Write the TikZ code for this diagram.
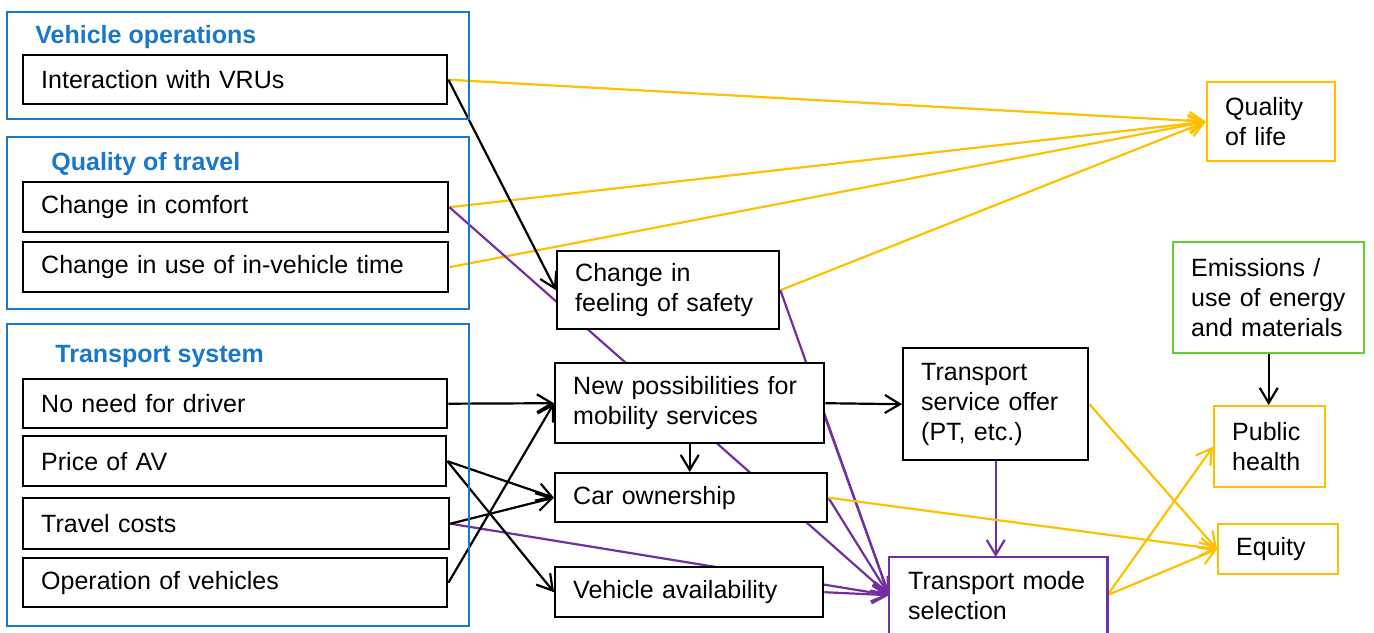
\documentclass[tikz,border=0pt]{standalone}
\usepackage{fontspec}
\setmainfont{Liberation Sans}
\usetikzlibrary{arrows.meta}
\definecolor{cblue}{HTML}{1A78C8}
\definecolor{cyel}{HTML}{FFC000}
\definecolor{cpur}{HTML}{7030A0}
\definecolor{cgrn}{HTML}{66CC33}
\pgfdeclarelayer{bg}
\pgfsetlayers{bg,main}
\begin{document}
\begin{tikzpicture}[x=0.5pt,y=-0.5pt,
  font=\fontsize{12.5}{15}\selectfont,
  box/.style={draw=black, fill=white, line width=1.2pt, anchor=north west, align=left, inner xsep=9pt, inner ysep=0pt},
  grp/.style={draw=cblue, line width=1pt},
  gtitle/.style={anchor=base west, inner sep=0pt, text=cblue, font=\fontsize{12.5}{15}\selectfont\bfseries},
  conn/.style={line width=1.1pt, -{Straight Barb[length=7.5pt,width=9pt]}},
  blk/.style={conn, draw=black},
  yel/.style={conn, draw=cyel},
  pur/.style={conn, draw=cpur}]
\useasboundingbox (0,0) rectangle (1374,632);

% groups
\draw[grp] (7,12) rectangle (469,119);
\draw[grp] (7,137) rectangle (469,309);
\draw[grp] (7,324) rectangle (469,626);
\node[gtitle] (t1) at (35,43) {Vehicle operations};
\node[gtitle] (t2) at (51,170) {Quality of travel};
\node[gtitle] (t3) at (55,362) {Transport system};

% left boxes
\node[box, text width=194pt, minimum height=24.5pt] (vru) at (22,54) {Interaction with VRUs};
\node[box, text width=194.5pt, minimum height=25pt] (comfort) at (22,181) {Change in comfort};
\node[box, text width=194.5pt, minimum height=25pt] (time) at (22,241) {Change in use of in-vehicle time};
\node[box, text width=194pt, minimum height=24.5pt] (nodriver) at (22,378) {No need for driver};
\node[box, text width=193.5pt, minimum height=25pt] (price) at (22,435) {Price of AV};
\node[box, text width=195pt, minimum height=25.5pt] (tc) at (22,497) {Travel costs};
\node[box, text width=194pt, minimum height=24.5pt] (op) at (22,557) {Operation of vehicles};

% middle boxes
\node[box, text width=93pt, minimum height=39pt] (safety) at (556,250) {Change in\\feeling of safety};
\node[box, text width=116.5pt, minimum height=40pt] (newposs) at (554,362) {New possibilities for\\mobility services};
\node[box, text width=118pt, minimum height=24.5pt] (car) at (554,472) {Car ownership};
\node[box, text width=116pt, minimum height=25pt] (va) at (554,566) {Vehicle availability};
\node[box, text width=74.5pt, minimum height=56pt] (service) at (902,347) {Transport\\service offer\\(PT, etc.)};
\node[box, draw=none, text width=90pt, minimum height=37pt] (mode) at (889,557) {Transport mode\\selection};
\draw[cpur, line width=1.2pt] ([yshift=-20pt]mode.south west) -- (mode.north west) -- (mode.north east) -- ([yshift=-20pt]mode.south east);

% right boxes
\node[box, draw=cyel, text width=46pt, minimum height=39.5pt] (qol) at (1206,81) {Quality\\of life};
\node[box, draw=cgrn, text width=77.5pt, minimum height=55.5pt] (emis) at (1172,241) {Emissions /\\use of energy\\and materials};
\node[box, draw=cyel, text width=37.5pt, minimum height=40.5pt] (ph) at (1213,405) {Public\\health};
\node[box, draw=cyel, text width=42pt, minimum height=25pt] (equity) at (1217,523) {Equity};

\begin{pgfonlayer}{bg}
\draw[yel] (vru.east) -- (qol.west);
\draw[yel] (comfort.east) -- (qol.west);
\draw[yel] (time.east) -- (qol.west);
\draw[yel] (safety.east) -- (qol.west);
\draw[blk] (vru.east) -- (safety.west);
\draw[pur] (comfort.east) -- (mode.west);
\draw[pur] (safety.east) -- (mode.west);
\draw[pur] ([yshift=-7.5pt]newposs.east) -- (mode.west);
\draw[pur] (car.east) -- (mode.west);
\draw[pur] (tc.east) -- (mode.west);
\draw[pur] (va.east) -- (mode.west);
\draw[pur] (service.south) -- (service.south |- mode.north);
\draw[blk] (nodriver.east) -- (newposs.west);
\draw[blk] (op.east) -- (newposs.west);
\draw[blk] (price.east) -- (car.west);
\draw[blk] (price.east) -- (va.west);
\draw[blk] (tc.east) -- (car.west);
\draw[blk] (newposs.south) -- (newposs.south |- car.north);
\draw[blk] (newposs.east) -- (service.west);
\draw[blk] (emis.south) -- (emis.south |- ph.north);
\draw[yel] (service.east) -- (equity.west);
\draw[yel] (car.east) -- (equity.west);
\draw[yel] (mode.east) -- (ph.west);
\draw[yel] (mode.east) -- (equity.west);
\end{pgfonlayer}
\end{tikzpicture}
\end{document}
